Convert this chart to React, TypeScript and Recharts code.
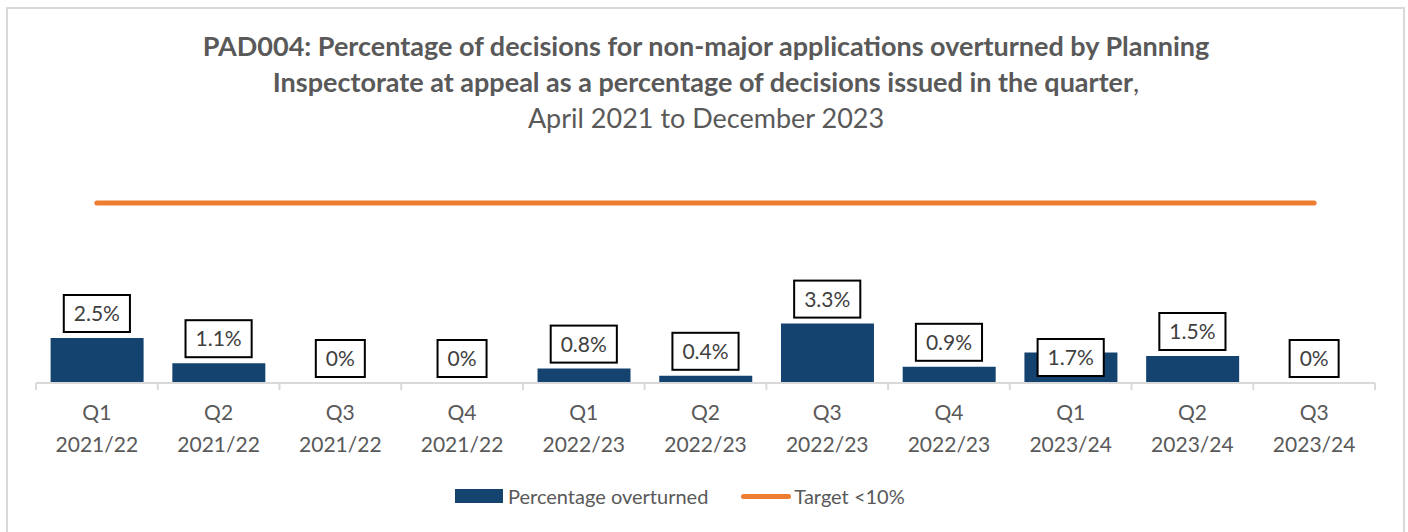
import { ComposedChart, Bar, Line, XAxis, YAxis, LabelList } from 'recharts';

const quarters = ['Q1', 'Q2', 'Q3', 'Q4', 'Q1', 'Q2', 'Q3', 'Q4', 'Q1', 'Q2', 'Q3'];
const years = [
  '2021/22', '2021/22', '2021/22', '2021/22',
  '2022/23', '2022/23', '2022/23', '2022/23',
  '2023/24', '2023/24', '2023/24',
];
const overturned = [2.5, 1.1, 0, 0, 0.8, 0.4, 3.3, 0.9, 1.7, 1.5, 0];
const targetValue = 10;

const data = quarters.map((q, i) => ({
  label: `${q}|${years[i]}`,
  overturned: overturned[i],
  target: targetValue,
}));

const FONT = 'Lato, "Open Sans", sans-serif';
const GREY = '#595959';
const NAVY = '#154370';
const ORANGE = '#ED7D31';

const W = 1408;
const H = 532;
const Y_MAX = 12;
const AXIS_H = 100;
const margin = { top: 167, right: 33, left: 36, bottom: 49 };
const bandWidth = (W - margin.left - margin.right) / quarters.length;
const pxPerUnit = (H - margin.top - margin.bottom - AXIS_H) / Y_MAX;

let ctx: CanvasRenderingContext2D | null = null;
function textWidth(s: string, font: string) {
  if (!ctx) ctx = document.createElement('canvas').getContext('2d');
  if (!ctx) return s.length * 11;
  ctx.font = font;
  return ctx.measureText(s).width;
}

// boxed data label, like the Excel callouts (x, y = top of the bar)
const BoxLabel = (props: any) => {
  const { x, y, value, index } = props;
  const text = `${value}%`;
  const w = textWidth(text, `21px ${FONT}`) + 20;
  const h = 37;
  const base = y + Number(value) * pxPerUnit;
  // the 1.7% label was dragged down onto its bar in the original
  const bottom = index === 8 ? base - 7 : y - 6;
  return (
    <g>
      <rect x={x - w / 2} y={bottom - h} width={w} height={h} fill="#fff" stroke="#000" strokeWidth={2} />
      <text x={x} y={bottom - h / 2 + 7.5} textAnchor="middle" fontSize={21} fontFamily={FONT} fill="#404040">
        {text}
      </text>
    </g>
  );
};

// two-line category tick with Excel-style tick marks on the boundaries
const CategoryTick = (props: any) => {
  const { x, y, payload, index } = props;
  const [q, yr] = String(payload.value).split('|');
  const left = x - bandWidth / 2;
  return (
    <g>
      <line x1={left} y1={y} x2={left} y2={y + 7} stroke="#d9d9d9" strokeWidth={2} />
      {index === quarters.length - 1 && (
        <line x1={x + bandWidth / 2} y1={y} x2={x + bandWidth / 2} y2={y + 7} stroke="#d9d9d9" strokeWidth={2} />
      )}
      <text x={x} y={y + 37} textAnchor="middle" fontSize={21} fontFamily={FONT} fill={GREY}>
        {q}
      </text>
      <text x={x} y={y + 69} textAnchor="middle" fontSize={21} fontFamily={FONT} fill={GREY}>
        {yr}
      </text>
    </g>
  );
};

export default function App() {
  return (
    <div
      style={{
        position: 'absolute',
        left: 0,
        top: 0,
        width: W,
        height: H,
        background: '#fff',
        overflow: 'hidden',
        fontFamily: FONT,
      }}
    >
      <div
        style={{
          position: 'absolute',
          left: 6,
          top: 7,
          width: 1395,
          height: 560,
          border: '2px solid #d9d9d9',
        }}
      />
      <div
        style={{
          position: 'absolute',
          left: 0,
          top: 28,
          width: 1412,
          textAlign: 'center',
          color: GREY,
          fontSize: 27,
          lineHeight: '36px',
        }}
      >
        <div style={{ fontWeight: 'bold' }}>
          PAD004: Percentage of decisions for non-major applications overturned by Planning
        </div>
        <div>
          <span style={{ fontWeight: 'bold' }}>
            Inspectorate at appeal as a percentage of decisions issued in the quarter
          </span>
          ,
        </div>
        <div>April 2021 to December 2023</div>
      </div>

      <div style={{ position: 'absolute', left: 0, top: 0 }}>
        <ComposedChart width={W} height={H} data={data} margin={margin} barCategoryGap="12%">
          <XAxis
            dataKey="label"
            height={AXIS_H}
            stroke="#d9d9d9"
            strokeWidth={2}
            tickLine={false}
            tickSize={0}
            tickMargin={0}
            interval={0}
            tick={<CategoryTick />}
          />
          <YAxis hide domain={[0, Y_MAX]} />
          <Bar dataKey="overturned" fill={NAVY} isAnimationActive={false} />
          <Line
            dataKey="target"
            stroke={ORANGE}
            strokeWidth={5}
            strokeLinecap="round"
            dot={false}
            activeDot={false}
            isAnimationActive={false}
          />
          {/* carrier for the boxed labels so that 0% values get one too */}
          <Line
            dataKey="overturned"
            stroke="none"
            dot={false}
            activeDot={false}
            legendType="none"
            isAnimationActive={false}
          >
            <LabelList dataKey="overturned" content={<BoxLabel />} />
          </Line>
        </ComposedChart>
      </div>

      <div
        style={{
          position: 'absolute',
          left: 455,
          top: 484,
          display: 'flex',
          alignItems: 'center',
          fontSize: 20,
          color: GREY,
          whiteSpace: 'nowrap',
        }}
      >
        <span style={{ width: 48, height: 14, background: NAVY, display: 'inline-block', marginRight: 5 }} />
        <span>Percentage overturned</span>
        <span
          style={{
            width: 50,
            height: 5,
            borderRadius: 3,
            background: ORANGE,
            display: 'inline-block',
            marginLeft: 33,
            marginRight: 3,
          }}
        />
        <span>Target &lt;10%</span>
      </div>
    </div>
  );
}
